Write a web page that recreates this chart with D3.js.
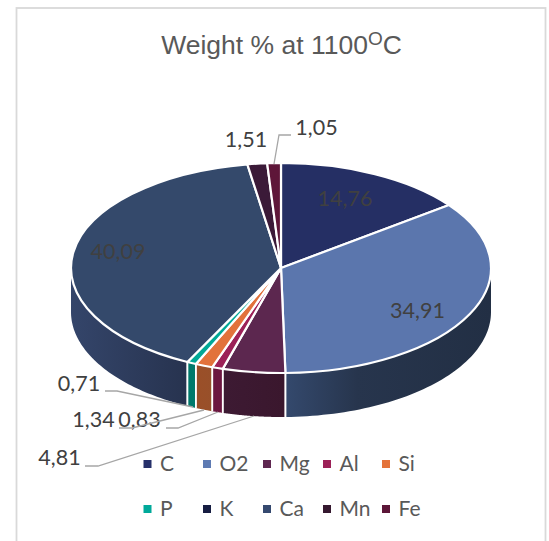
<!DOCTYPE html>
<html><head><meta charset="utf-8">
<script src="https://cdn.jsdelivr.net/npm/d3@7"></script>
<style>html,body{margin:0;padding:0;background:#fff}svg{display:block}</style>
</head><body><svg id="c" width="549" height="541"></svg>
<script>
const categories=["C","O2","Mg","Al","Si","P","K","Ca","Mn","Fe"];
const values=[14.76,34.91,4.81,0.83,1.34,0.71,0.0,40.09,1.51,1.05];
const labels=["14,76","34,91","4,81","0,83","1,34","0,71","","40,09","1,51","1,05"];
const topColors=["#252f64","#5b76ad","#5c274f","#9c2158","#e2723b","#00a896","#161d42","#34496b","#3b1a38","#5e1639"];
const sideLeft=["#1a2248","#34496d","#3d1a33","#6b1640","#9b4f28","#00796b","#101530","#34456a","#2a1228","#431028"];
const sideRight=["#1a2248","#222f44","#3a172d","#6b1640","#98502a","#007a6c","#101530","#27334f","#2a1228","#431028"];
const legendFill=["#26306a","#5e7bb3","#5e2750","#9c2158","#e4733a","#00a99a","#161d42","#35496f","#35182f","#5c1638"];
const title="Weight % at 1100";
const cx=281,cy=268,rx=210,ry=105,depth=44;
const svg=d3.select("#c");
svg.append("rect").attr("x",16.5).attr("y",8).attr("width",529).attr("height",560).attr("fill","#fff").attr("stroke","#d9d9d9").attr("stroke-width",1.8);
const arcs=d3.pie().value(d=>d).sort(null)(values);
const px=a=>cx+rx*Math.sin(a), py=a=>cy-ry*Math.cos(a);
const lo=Math.PI/2,hi=Math.PI*1.5;
const defs=svg.append("defs");
const sideG=svg.append("g");
const seps=[];
arcs.forEach((d,i)=>{
  const a0=Math.max(d.startAngle,lo),a1=Math.min(d.endAngle,hi);
  if(a1<=a0)return;
  const p=d3.path();
  const angs=d3.range(0,61).map(k=>a0+(a1-a0)*k/60);
  angs.forEach((a,k)=>k?p.lineTo(px(a),py(a)):p.moveTo(px(a),py(a)));
  angs.slice().reverse().forEach(a=>p.lineTo(px(a),py(a)+depth));
  p.closePath();
  const id="g"+i;
  const xl=Math.min(px(a0),px(a1)),xr=Math.max(px(a0),px(a1));
  const g=defs.append("linearGradient").attr("id",id).attr("gradientUnits","userSpaceOnUse")
    .attr("x1",xl).attr("x2",xr).attr("y1",0).attr("y2",0);
  g.append("stop").attr("offset",0).attr("stop-color",sideLeft[i]);
  if(i==1) g.append("stop").attr("offset",0.35).attr("stop-color","#27354d");
  g.append("stop").attr("offset",1).attr("stop-color",sideRight[i]);
  sideG.append("path").attr("d",p.toString()).attr("fill",`url(#${id})`);
  if(d.startAngle>=lo) seps.push(d.startAngle);
  if(d.endAngle<=hi) seps.push(d.endAngle);
});
sideG.selectAll("line").data(seps).join("line")
 .attr("x1",px).attr("x2",px).attr("y1",py).attr("y2",a=>py(a)+depth)
 .attr("stroke","#fff").attr("stroke-width",1.6);
const arc=d3.arc().innerRadius(0).outerRadius(rx);
svg.append("g").attr("transform",`translate(${cx},${cy}) scale(1,${ry/rx})`)
 .selectAll("path").data(arcs.filter(d=>d.value>0)).join("path")
 .attr("d",arc).attr("fill",d=>topColors[d.index]).attr("stroke","#fff").attr("stroke-width",2.2)
 .attr("vector-effect","non-scaling-stroke").attr("stroke-linejoin","round");
const t=svg.append("text").attr("x",281.5).attr("y",54).attr("text-anchor","middle")
 .attr("font-family","Liberation Sans, Arial, sans-serif").attr("font-size",26.5).attr("fill","#595959");
t.append("tspan").text(title);
t.append("tspan").attr("font-size",19).attr("dy",-9).text("O");
t.append("tspan").attr("dy",9).text("C");
const font="Lato, Open Sans, sans-serif";
const labelPos=[[345,206],[417.5,318],[59.5,465],[139.5,427],[93.5,427],[79,391],null,[118,259],[246,147],[316.5,135]];
svg.append("g").selectAll("text").data(labelPos.map((p,i)=>({p,i})).filter(d=>d.p)).join("text")
 .attr("x",d=>d.p[0]).attr("y",d=>d.p[1]).attr("text-anchor","middle")
 .attr("font-family",font).attr("font-size",21.5).attr("fill","#404040").text(d=>labels[d.i]);
const leaders=[[[105,391],[117,391],[193,407]],[[119,428],[132,428],[204,410]],[[166,428],[178,428],[218,412]],[[85,466],[98,466],[254,416]],[[291,135],[279,135],[274,164]]];
const ln=d3.line();
svg.append("g").selectAll("path").data(leaders).join("path").attr("d",d=>ln(d)).attr("fill","none").attr("stroke","#a6a6a6").attr("stroke-width",1.3);
const legX=[143.5,203,263,323,382];
const legY=[464,509];
const lg=svg.append("g").selectAll("g").data(categories).join("g")
 .attr("transform",(d,i)=>`translate(${legX[i%5]},${legY[Math.floor(i/5)]})`);
lg.append("rect").attr("y",-4).attr("width",8).attr("height",8).attr("fill",(d,i)=>legendFill[i]);
lg.append("text").attr("x",16.5).attr("y",7).attr("font-family",font).attr("font-size",21).attr("fill","#595959").text(d=>d);
</script></body></html>
